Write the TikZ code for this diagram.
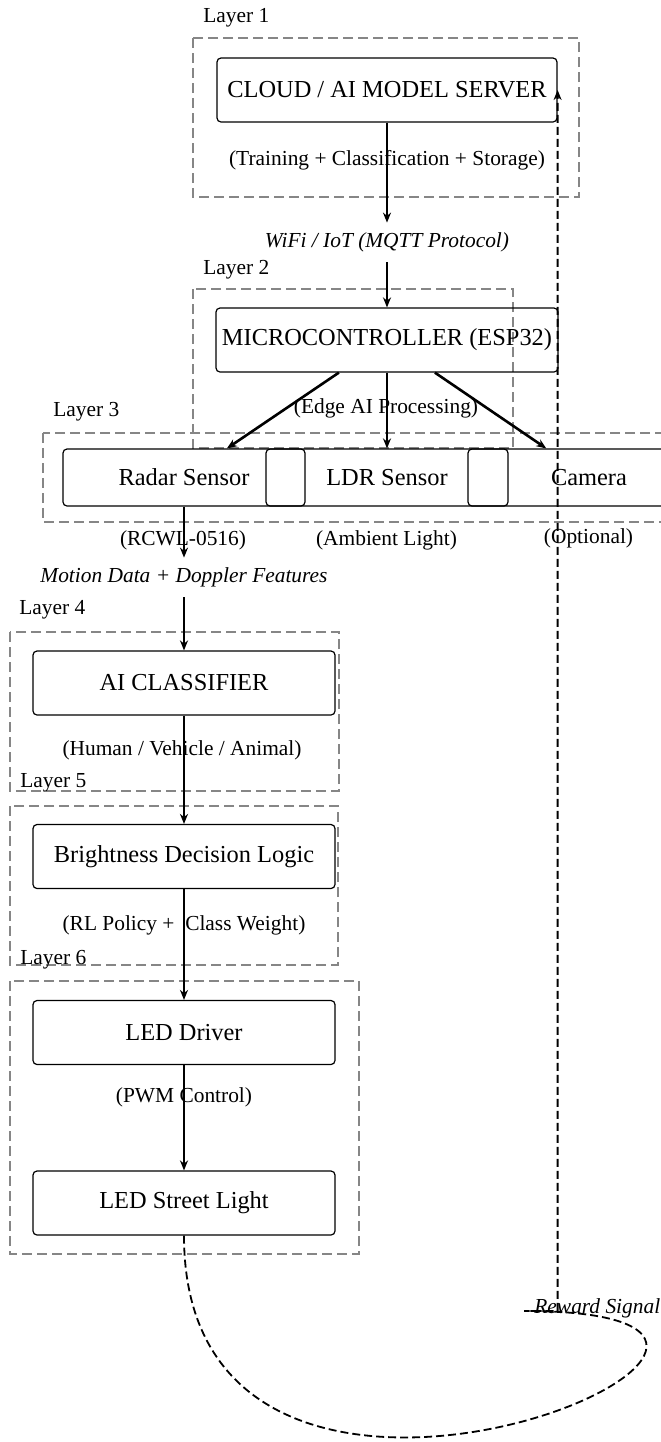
\documentclass[tikz,border=0pt]{standalone}
\usepackage{fontspec}
\setmainfont{Liberation Serif}
\usetikzlibrary{arrows.meta, positioning}

\begin{document}
\begin{tikzpicture}[>={Stealth[length=5pt,width=4pt]}, x=0.5pt, y=-0.5pt,
  box/.style={draw, rounded corners=2pt, line width=0.6pt, inner sep=0pt,
    minimum width=151pt, minimum height=32pt, font=\fontsize{12.2}{14}\selectfont},
  sensor/.style={box, minimum width=121pt, minimum height=28.5pt},
  sub/.style={inner sep=0pt, font=\fontsize{10.7}{13}\selectfont},
  flowlbl/.style={inner sep=0pt, minimum height=19.5pt, font=\fontsize{10.7}{13}\selectfont\itshape},
  layerlbl/.style={sub, anchor=west},
  layerbox/.style={draw=gray!95, line width=0.7pt, dash pattern=on 5pt off 2.5pt},
  flow/.style={->, line width=1.3pt},
  feedback/.style={->, line width=0.9pt, dash pattern=on 4pt off 2pt}]
  \useasboundingbox (0,0) rectangle (660,1442);

  % layer frames
  \draw[layerbox] (193,38) rectangle (579,197);
  \draw[layerbox] (193,289) rectangle (513,448);
  \draw[layerbox] (43,433) rectangle (700,522);
  \draw[layerbox] (10,632) rectangle (339,791);
  \draw[layerbox] (10,806) rectangle (338,965);
  \draw[layerbox] (10,981) rectangle (359,1254);
  \node[layerlbl] (lay1) at (203,18) {Layer 1};
  \node[layerlbl] (lay2) at (203,270) {Layer 2};
  \node[layerlbl] (lay3) at (53,412) {Layer 3};
  \node[layerlbl] (lay4) at (19,610) {Layer 4};
  \node[layerlbl] (lay5) at (20,783) {Layer 5};
  \node[layerlbl] (lay6) at (20,960) {Layer 6};

  % cloud and controller
  \node[box, minimum width=170pt] (cloud) at (387,90) {CLOUD / AI MODEL SERVER};
  \node[sub] (cloudsub) at (387,160) {(Training + Classification + Storage)};
  \node[flowlbl] (wifi) at (387,242.5) {WiFi / IoT (MQTT Protocol)};
  \node[box, minimum width=171pt] (mcu) at (387,340) {MICROCONTROLLER (ESP32)};
  \node[sub] (mcusub) at (386,408) {(Edge AI Processing)};

  % sensors
  \node[sensor] (radar) at (184,477.5) {Radar Sensor};
  \node[sensor] (ldr) at (387,477.5) {LDR Sensor};
  \node[sensor] (cam) at (589,477.5) {Camera};
  \node[sub] (radarsub) at (183,540) {(RCWL-0516)};
  \node[sub] (ldrsub) at (386.5,540) {(Ambient Light)};
  \node[sub] (camsub) at (588.5,538) {(Optional)};
  \node[flowlbl] (motion) at (184,577.5) {Motion Data + Doppler Features};

  % classification and output chain
  \node[box] (clf) at (184,683) {AI CLASSIFIER};
  \node[sub] (clfsub) at (182,750) {(Human / Vehicle / Animal)};
  \node[box] (bright) at (184,856.5) {Brightness Decision Logic};
  \node[sub] (brightsub) at (184,925) {(RL Policy + \ Class Weight)};
  \node[box] (driver) at (184,1032.5) {LED Driver};
  \node[sub] (driversub) at (184,1097) {(PWM Control)};
  \node[box] (light) at (184,1203) {LED Street Light};

  % connectors
  \draw[flow] (cloud) -- (wifi);
  \draw[flow] (wifi) -- (mcu);
  \draw[flow] (mcu) -- (radar);
  \draw[flow] (mcu) -- (ldr);
  \draw[flow] (mcu) -- (cam);
  \draw[flow] (radar) -- (motion);
  \draw[flow] (motion) -- (clf);
  \draw[flow] (clf) -- (bright);
  \draw[flow] (bright) -- (driver);
  \draw[flow] (driver) -- (light);

  % reward loop back to the cloud
  \coordinate (rw) at (524,1311);
  \draw[feedback] (light.south) .. controls +(0,405) and +(410,0) .. (rw) -| (cloud.east);
  \node[flowlbl, minimum height=0pt, anchor=west] (reward) at (534,1308) {Reward Signal};
\end{tikzpicture}
\end{document}
